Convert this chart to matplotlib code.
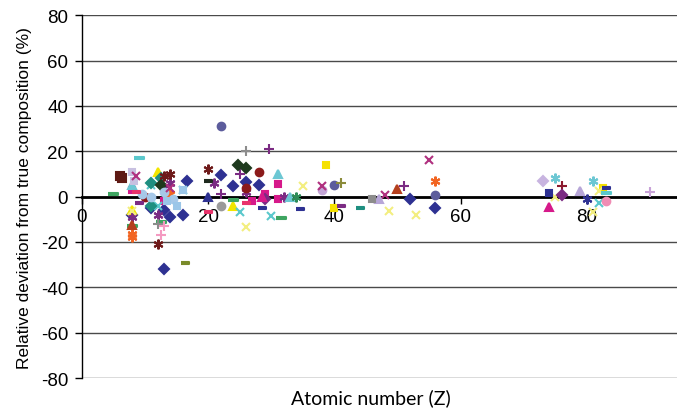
import matplotlib
matplotlib.use('Agg')
import matplotlib.pyplot as plt
import numpy as np

plt.rcParams['font.family'] = ['Liberation Sans', 'DejaVu Sans']
plt.rcParams['axes.unicode_minus'] = False

# Data: atomic number (Z) and relative deviation (%) for each marker series
navy_diamond_z = [22, 24, 26, 28, 13, 13, 11, 16.6, 52, 56, 8, 14, 16]
navy_diamond_dev = [9.5, 4.6, 6.4, 5, -6, -32, -5, 7, -1, -5, -8, -9, -8]
magenta_square_z = [31, 31, 8, 13, 27, 29]
magenta_square_dev = [5.5, -1, 3, -2, -2, 1]
yellow_triangle_z = [12, 24, 8, 14]
yellow_triangle_dev = [11, -4, -6, 1]
cyan_x_z = [25, 30, 12, 16, 82, 11]
cyan_x_dev = [-7, -8.6, -4, 3, -3, 5]
purple_star_z = [21, 12, 13, 8, 14, 26, 32]
purple_star_dev = [6, -8, 4, -9, 6, 2, 0]
brown_circle_z = [28, 26, 10]
brown_circle_dev = [11, 4, 0]
purple_plus_z = [25, 29.7, 51, 14, 22]
purple_plus_dev = [10, 21, 4.6, 2, 1]
green_dash_z = [5, 31.5, 8, 24, 12.5]
green_dash_dev = [1, -9.5, -13, -1.5, -11]
teal_diamond_z = [11, 11, 12.5]
teal_diamond_dev = [6, -4, 8]
dkgreen_diamond_z = [24.8, 26, 12.5]
dkgreen_diamond_dev = [14, 12.5, 5]
dkred_star_z = [20, 12, 13, 14]
dkred_star_dev = [12, -21, 9, 10]
dkred_square_z = [6, 6.3]
dkred_square_dev = [9, 8]
orange_star_z = [8, 8, 56, 14]
orange_star_dev = [-16.5, -18, 7, 1]
cyan_triangle_z = [31, 33, 8]
cyan_triangle_dev = [10, 0, 5]
ltblue_circle_z = [11, 13, 14.5, 9.5]
ltblue_circle_dev = [0, 2, -1, 1]
gray_circle_z = [22]
gray_circle_dev = [-4]
slate_circle_z = [22, 56, 40]
slate_circle_dev = [31, 0.7, 5]
lavender_circle_z = [38]
lavender_circle_dev = [3]
lavender_square_z = [8, 8.3]
lavender_square_dev = [11, 7]
yellow_square_z = [38.7, 40, 82.5]
yellow_square_dev = [14, -5, 4]
gray_plus_z = [26, 12]
gray_plus_dev = [20, -12]
pink_plus_z = [12.5, 13]
pink_plus_dev = [-17, -13]
olive_dash_z = [16.3]
olive_dash_dev = [-29.3]
olive_plus_z = [41]
olive_plus_dev = [6]
magenta_x_z = [55, 38, 48, 14, 8.5]
magenta_x_dev = [16, 4.6, 0.7, 4, 9]
yellow_x_z = [26, 35, 48.7, 53, 81, 82, 75, 8]
yellow_x_dev = [-13.5, 4.6, -6.4, -8, -7, 2.4, 0, -6.4]
lavender_triangle_z = [47, 79]
lavender_triangle_dev = [-1, 2.4]
gray_square_z = [46]
gray_square_dev = [-1]
brown_triangle_z = [50, 8]
brown_triangle_dev = [3.3, -12.5]
navy_dash_z = [28.5, 34.5, 83]
navy_dash_dev = [-5, -5.5, 4]
purple_dash_z = [41, 9]
purple_dash_dev = [-4, -3]
teal_dash_z = [44]
teal_dash_dev = [-5]
red_dash_z = [26, 8.5, 20]
red_dash_dev = [-3, 2, -7]
dark_dash_z = [20]
dark_dash_dev = [7]
lavender_diamond_z = [73]
lavender_diamond_dev = [7]
cyan_star_z = [75, 81]
cyan_star_dev = [8, 7]
dkred_plus_z = [76]
dkred_plus_dev = [4.6]
navy_square_z = [74]
navy_square_dev = [1.5]
purple_diamond_z = [76, 29]
purple_diamond_dev = [0.7, -1]
magenta_triangle_z = [74, 28.5]
magenta_triangle_dev = [-4.6, 0]
navy_star_z = [80]
navy_star_dev = [-1]
pink_circle_z = [83]
pink_circle_dev = [-2]
lavender_plus_z = [90]
lavender_plus_dev = [2]
cyan_dash_z = [83, 9]
cyan_dash_dev = [1.5, 17]
navy_triangle_z = [20]
navy_triangle_dev = [0]
green_star_z = [34]
green_star_dev = [0]
ltblue_square_z = [13.5, 16, 15]
ltblue_square_dev = [-2, 3, -4]

dash = [(-1, -0.3), (1, -0.3), (1, 0.3), (-1, 0.3)]
star = (6, 2, 0)

series = [
    (navy_diamond_z, navy_diamond_dev, 'D', '#2E3192', 5),
    (magenta_square_z, magenta_square_dev, 's', '#D6198A', 5),
    (yellow_triangle_z, yellow_triangle_dev, '^', '#F2E600', 6),
    (cyan_x_z, cyan_x_dev, 'x', '#5BC8CC', 6),
    (purple_star_z, purple_star_dev, star, '#7B2B83', 7),
    (brown_circle_z, brown_circle_dev, 'o', '#8B1A1A', 5.5),
    (purple_plus_z, purple_plus_dev, '+', '#7B2B83', 7),
    (green_dash_z, green_dash_dev, dash, '#3EA561', 7),
    (teal_diamond_z, teal_diamond_dev, 'D', '#1F8F80', 5),
    (dkgreen_diamond_z, dkgreen_diamond_dev, 'D', '#1E3A1E', 5),
    (dkred_star_z, dkred_star_dev, star, '#6E1A1A', 7),
    (dkred_square_z, dkred_square_dev, 's', '#5E1A14', 5.5),
    (orange_star_z, orange_star_dev, star, '#F26522', 7),
    (cyan_triangle_z, cyan_triangle_dev, '^', '#6CC7D3', 6),
    (ltblue_circle_z, ltblue_circle_dev, 'o', '#A6C8E8', 5.5),
    (gray_circle_z, gray_circle_dev, 'o', '#9A9A9A', 5.5),
    (slate_circle_z, slate_circle_dev, 'o', '#5C5C9C', 5.5),
    (lavender_circle_z, lavender_circle_dev, 'o', '#C3A6D6', 5.5),
    (lavender_square_z, lavender_square_dev, 's', '#C8C0E0', 5),
    (yellow_square_z, yellow_square_dev, 's', '#F5E100', 5),
    (gray_plus_z, gray_plus_dev, '+', '#8C8C8C', 7),
    (pink_plus_z, pink_plus_dev, '+', '#F49AC1', 7),
    (olive_dash_z, olive_dash_dev, dash, '#7A8B2A', 6),
    (olive_plus_z, olive_plus_dev, '+', '#8B8B3A', 7),
    (magenta_x_z, magenta_x_dev, 'x', '#B0307F', 6),
    (yellow_x_z, yellow_x_dev, 'x', '#F3EE80', 6),
    (lavender_triangle_z, lavender_triangle_dev, '^', '#B7A6D8', 6),
    (gray_square_z, gray_square_dev, 's', '#8C8C8C', 5),
    (brown_triangle_z, brown_triangle_dev, '^', '#B5401E', 6),
    (navy_dash_z, navy_dash_dev, dash, '#2E3192', 6),
    (purple_dash_z, purple_dash_dev, dash, '#7B2B83', 6),
    (teal_dash_z, teal_dash_dev, dash, '#1F8F80', 6),
    (red_dash_z, red_dash_dev, dash, '#E8336B', 6),
    (dark_dash_z, dark_dash_dev, dash, '#1E2A1E', 6),
    (lavender_diamond_z, lavender_diamond_dev, 'D', '#C8B4E0', 5),
    (cyan_star_z, cyan_star_dev, star, '#6CC7D3', 7),
    (dkred_plus_z, dkred_plus_dev, '+', '#8B1A2E', 7),
    (navy_square_z, navy_square_dev, 's', '#2E3192', 5),
    (purple_diamond_z, purple_diamond_dev, 'D', '#7B2B83', 5),
    (magenta_triangle_z, magenta_triangle_dev, '^', '#D6198A', 6),
    (navy_star_z, navy_star_dev, star, '#2E3192', 7),
    (pink_circle_z, pink_circle_dev, 'o', '#F08CB4', 5.5),
    (lavender_plus_z, lavender_plus_dev, '+', '#C8A2D8', 7),
    (cyan_dash_z, cyan_dash_dev, dash, '#5BC8CC', 7),
    (navy_triangle_z, navy_triangle_dev, '^', '#2E3192', 6),
    (green_star_z, green_star_dev, star, '#2E8B57', 7),
    (ltblue_square_z, ltblue_square_dev, 's', '#9BC6E8', 5),
]

fig = plt.figure(figsize=(6.77, 4.10), dpi=100)
ax = fig.add_axes([0.121, 0.0756, 0.879, 0.885])

for z, dev, marker, color, size in series:
    ax.plot(z, dev, linestyle='none', marker=marker, color=color,
            markersize=size, markeredgewidth=1.5, zorder=3)

ax.set_xlim(0, 94.3)
ax.set_ylim(-80, 80)
ax.set_yticks(np.arange(-80, 81, 20))
ax.set_xticks([0, 20, 40, 60, 80])
ax.yaxis.grid(True, color='#4a4a4a', linewidth=1)
ax.set_axisbelow(True)

for side in ['top', 'right']:
    ax.spines[side].set_visible(False)
ax.spines['bottom'].set_position(('data', 0))
ax.spines['bottom'].set_linewidth(2)
ax.spines['bottom'].set_zorder(2)
ax.spines['left'].set_linewidth(1)
ax.tick_params(axis='both', direction='out', length=5, width=1,
               labelsize=13.5, pad=3)
ax.tick_params(axis='y', pad=5)

ax.set_ylabel('Relative deviation from true composition (%)', fontsize=12.5,
              labelpad=6)
fig.text(371 / 677, 0.028, 'Atomic number (Z)', family='Lato', fontsize=14,
         ha='center', va='center')

fig.savefig('out.png', dpi=100)
